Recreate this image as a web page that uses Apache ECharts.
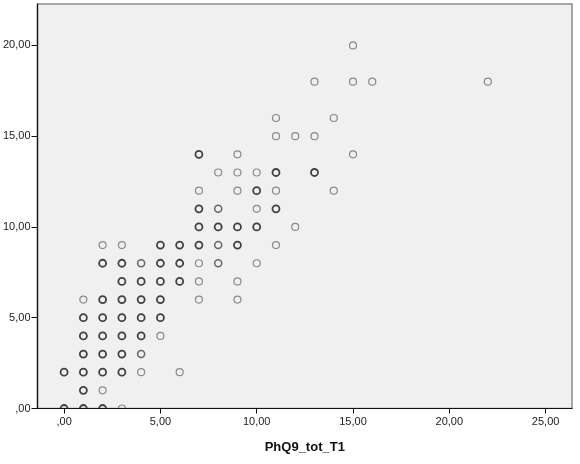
<!DOCTYPE html>
<html>
<head>
<meta charset="utf-8">
<script src="https://cdn.jsdelivr.net/npm/echarts@6/dist/echarts.min.js"></script>
<style>html,body{margin:0;padding:0;background:#fff;}#c{width:580px;height:464px;}</style>
</head>
<body>
<div id="c"></div>
<script>
// Points: [PhQ9_tot_T1, y]
var lightPoints = [
  [3,0],[2,1],[4,2],[6,2],[5,4],[1,6],[7,6],[9,6],[7,7],[9,7],
  [7,8],[10,8],[2,9],[3,9],[11,9],[12,10],[10,11],[7,12],[9,12],[11,12],[14,12],
  [8,13],[9,13],[10,13],[9,14],[15,14],[11,15],[12,15],[13,15],[11,16],[14,16],
  [13,18],[15,18],[16,18],[22,18],[15,20]
];
var mediumPoints = [
  [4,3],[4,8],[8,8],[8,9],[8,11]
];
var darkPoints = [
  [0,0],[1,0],[2,0],[1,1],[0,2],[1,2],[2,2],[3,2],[1,3],[2,3],[3,3],
  [1,4],[2,4],[3,4],[4,4],[1,5],[2,5],[3,5],[4,5],[5,5],
  [2,6],[3,6],[4,6],[5,6],[3,7],[4,7],[5,7],[6,7],
  [2,8],[3,8],[5,8],[6,8],[5,9],[6,9],[7,9],[9,9],
  [7,10],[8,10],[9,10],[10,10],[7,11],[11,11],[10,12],[11,13],[13,13],[7,14]
];
var xTicks = [0,5,10,15,20,25];
var yTicks = [0,5,10,15,20];
var xName = 'PhQ9_tot_T1';

function fmt(v){ return v === 0 ? ',00' : v.toFixed(2).replace('.', ','); }

var chart = echarts.init(document.getElementById('c'));
function sym(color, bw){
  return {color: 'transparent', borderColor: color, borderWidth: bw};
}
chart.setOption({
  animation: false,
  backgroundColor: '#ffffff',
  grid: {left: 37, right: 8, top: 4, bottom: 55.5, show: true,
         backgroundColor: '#f0f0f0', borderColor: '#8a8a8a', borderWidth: 1.5},
  xAxis: {
    type: 'value', min: -1.38, max: 26.37, z: 10,
    name: xName, nameLocation: 'middle', nameGap: 32,
    nameTextStyle: {fontFamily: 'Liberation Sans', fontSize: 13, fontWeight: 'bold', color: '#111'},
    axisLine: {onZero: false, lineStyle: {color: '#111', width: 1.2}},
    axisTick: {show: true, length: 5, customValues: xTicks, lineStyle: {color: '#111'}},
    axisLabel: {customValues: xTicks, formatter: fmt, margin: 8,
      fontFamily: 'Liberation Sans', fontSize: 11, color: '#222'},
    splitLine: {show: false}
  },
  yAxis: {
    type: 'value', min: 0, max: 22.28, z: 10,
    axisLine: {show: true, onZero: false, lineStyle: {color: '#111', width: 1.2}},
    axisTick: {show: true, length: 6, customValues: yTicks, lineStyle: {color: '#111'}},
    axisLabel: {customValues: yTicks, formatter: fmt, margin: 7,
      fontFamily: 'Liberation Sans', fontSize: 11, color: '#222'},
    splitLine: {show: false}
  },
  series: [
    {type: 'scatter', data: lightPoints, symbol: 'circle', symbolSize: 7, clip: true,
     itemStyle: sym('#707070', 1.2)},
    {type: 'scatter', data: mediumPoints, symbol: 'circle', symbolSize: 7, clip: true,
     itemStyle: sym('#444444', 1.5)},
    {type: 'scatter', data: darkPoints, symbol: 'circle', symbolSize: 7, clip: true,
     itemStyle: sym('#151515', 1.8)}
  ]
});
// cover the part of the markers that falls below the plot area (clipping like the original)
var base = chart.convertToPixel({gridIndex: 0}, [-1.38, 0]);
var right = chart.convertToPixel({gridIndex: 0}, [26.37, 0]);
chart.setOption({
  graphic: [{type: 'rect', z: 5, silent: true,
    shape: {x: base[0] - 6, y: base[1] + 0.5, width: right[0] - base[0] + 12, height: 6},
    style: {fill: '#ffffff'}}]
});
</script>
</body>
</html>
